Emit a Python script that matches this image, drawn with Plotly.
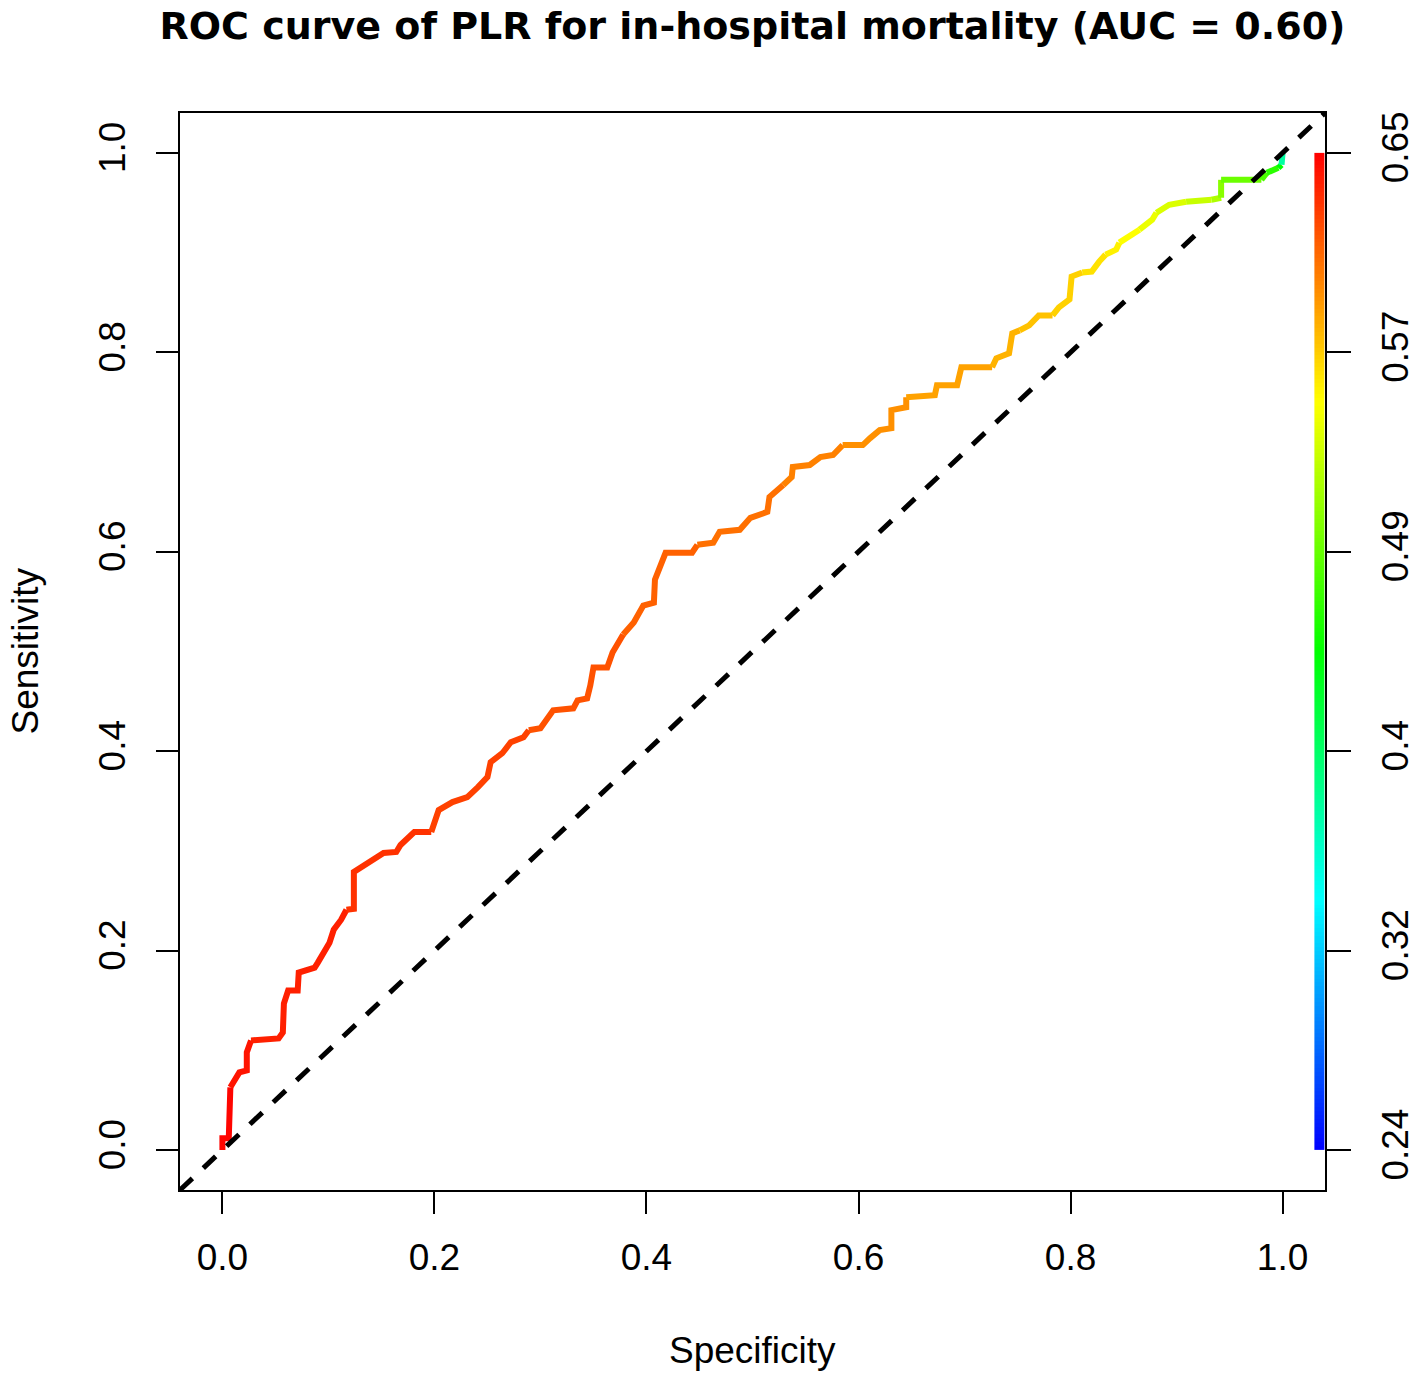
import colorsys
import numpy as np
import plotly.graph_objects as go

# ROC curve vertices (x = 1 - specificity axis as drawn, y = sensitivity)
spec = [0.000, 0.000, 0.006, 0.0075, 0.011, 0.016, 0.023, 0.023, 0.027, 0.053,
        0.057, 0.058, 0.062, 0.071, 0.072, 0.087, 0.090, 0.095, 0.101, 0.105,
        0.112, 0.117, 0.124, 0.124, 0.134, 0.143, 0.152, 0.164, 0.168, 0.181,
        0.197, 0.204, 0.217, 0.231, 0.241, 0.250, 0.253, 0.264, 0.272, 0.284,
        0.289, 0.300, 0.312, 0.331, 0.335, 0.344, 0.347, 0.350, 0.363, 0.368,
        0.378, 0.388, 0.397, 0.407, 0.408, 0.413, 0.418, 0.443, 0.448, 0.463,
        0.469, 0.488, 0.498, 0.514, 0.516, 0.529, 0.537, 0.538, 0.554, 0.564,
        0.576, 0.585, 0.604, 0.611, 0.620, 0.631, 0.631, 0.645, 0.645, 0.672,
        0.674, 0.693, 0.697, 0.726, 0.730, 0.742, 0.745, 0.752, 0.761, 0.770,
        0.783, 0.789, 0.799, 0.801, 0.811, 0.820, 0.827, 0.833, 0.843, 0.846,
        0.857, 0.865, 0.877, 0.881, 0.893, 0.909, 0.933, 0.942, 0.942, 0.980,
        0.985, 0.996, 0.999, 1.000]
sens = [0.000, 0.012, 0.012, 0.063, 0.070, 0.078, 0.080, 0.098, 0.110, 0.112,
        0.118, 0.147, 0.160, 0.160, 0.178, 0.183, 0.188, 0.196, 0.208, 0.221,
        0.231, 0.241, 0.242, 0.279, 0.286, 0.291, 0.298, 0.299, 0.306, 0.319,
        0.319, 0.341, 0.349, 0.354, 0.364, 0.374, 0.389, 0.398, 0.409, 0.414,
        0.421, 0.423, 0.441, 0.443, 0.451, 0.453, 0.466, 0.484, 0.484, 0.499,
        0.517, 0.529, 0.546, 0.549, 0.572, 0.585, 0.599, 0.599, 0.607, 0.609,
        0.620, 0.622, 0.634, 0.640, 0.655, 0.667, 0.675, 0.685, 0.687, 0.695,
        0.697, 0.707, 0.707, 0.714, 0.722, 0.724, 0.742, 0.745, 0.755, 0.757,
        0.767, 0.767, 0.785, 0.785, 0.794, 0.799, 0.819, 0.822, 0.827, 0.837,
        0.837, 0.845, 0.853, 0.876, 0.880, 0.881, 0.891, 0.898, 0.903, 0.910,
        0.918, 0.923, 0.933, 0.940, 0.948, 0.951, 0.953, 0.955, 0.973, 0.973,
        0.980, 0.985, 0.988, 1.000]
# cutoff (PLR probability) at each vertex, estimated from the curve colour
cutoff = [0.648, 0.646, 0.644, 0.642, 0.641, 0.640, 0.639, 0.638, 0.637, 0.636,
          0.636, 0.635, 0.635, 0.634, 0.634, 0.633, 0.633, 0.632, 0.632, 0.631,
          0.631, 0.630, 0.630, 0.629, 0.628, 0.628, 0.627, 0.626, 0.626, 0.625,
          0.624, 0.623, 0.623, 0.622, 0.621, 0.620, 0.619, 0.619, 0.618, 0.618,
          0.617, 0.616, 0.616, 0.615, 0.615, 0.614, 0.613, 0.613, 0.612, 0.612,
          0.611, 0.610, 0.610, 0.609, 0.608, 0.608, 0.607, 0.606, 0.605, 0.604,
          0.603, 0.602, 0.601, 0.600, 0.599, 0.598, 0.597, 0.596, 0.595, 0.594,
          0.593, 0.592, 0.591, 0.591, 0.590, 0.589, 0.588, 0.586, 0.585, 0.584,
          0.582, 0.581, 0.580, 0.578, 0.577, 0.576, 0.574, 0.572, 0.570, 0.568,
          0.566, 0.564, 0.562, 0.561, 0.559, 0.557, 0.555, 0.553, 0.550, 0.547,
          0.544, 0.540, 0.537, 0.533, 0.529, 0.525, 0.515, 0.500, 0.488, 0.475,
          0.462, 0.445, 0.380, 0.290]

cut_min, cut_max = 0.24, 0.65
bar_tickvals = [0.24, 0.322, 0.404, 0.486, 0.568, 0.65]
bar_ticktext = ['0.24', '0.32', '0.4', '0.49', '0.57', '0.65']
axis_ticks = [0.0, 0.2, 0.4, 0.6, 0.8, 1.0]

FONT = "Liberation Sans, Arial, sans-serif"

# the page body adds an 8px offset, so the figure is 16px smaller
W, H = 1410, 1369


def rainbow(c):
    # rev(rainbow(256, start=0, end=4/6)) like ROCR colorize
    f = (cut_max - c) / (cut_max - cut_min)
    f = min(max(f, 0), 1)
    r, g, b = colorsys.hsv_to_rgb(f * 4 / 6, 1, 1)
    return 'rgb(%d,%d,%d)' % (round(r * 255), round(g * 255), round(b * 255))


def bin_of(c):
    return int(min(max((cut_max - c) / (cut_max - cut_min), 0), 0.9999) * 64)


fig = go.Figure()

# group consecutive segments of the same colour bin into one polyline
start = 0
n = len(spec)
while start < n - 1:
    b = bin_of(cutoff[start])
    end = start + 1
    while end < n - 1 and bin_of(cutoff[end]) == b:
        end += 1
    fig.add_trace(go.Scatter(
        x=spec[start:end + 1], y=sens[start:end + 1], mode='lines',
        line=dict(color=rainbow(cutoff[start]), width=6),
        hoverinfo='skip', showlegend=False))
    start = end

# colour bar along the right edge, on its own cutoff axis
edges = np.linspace(cut_min, cut_max, 257)
mids = (edges[:-1] + edges[1:]) / 2
scale = [[i / 20, rainbow(cut_min + (cut_max - cut_min) * i / 20)] for i in range(21)]
fig.add_trace(go.Heatmap(
    x=[1.030, 1.0395], y=edges, z=[[m] for m in mids],
    zmin=cut_min, zmax=cut_max, colorscale=scale, showscale=False,
    hoverinfo='skip', yaxis='y2'))

# chance diagonal
fig.add_shape(type='line', xref='x domain', yref='y domain', x0=0, y0=0, x1=1, y1=1,
              line=dict(color='black', width=5, dash='17px,15px'))

pad = 0.04
span = cut_max - cut_min
fig.update_layout(
    width=W, height=H,
    margin=dict(l=172, r=93, t=105, b=187, autoexpand=False),
    paper_bgcolor='white', plot_bgcolor='white',
    font=dict(family=FONT, size=37, color='black'),
    showlegend=False,
    title=dict(text='<b>ROC curve of PLR for in-hospital mortality (AUC = 0.60)</b>',
               x=0.5, xref='paper', xanchor='center',
               y=1 - 18 / H, yref='container', yanchor='middle',
               font=dict(family="DejaVu Sans, sans-serif", size=38, color='black')),
    xaxis=dict(range=[-pad, 1 + pad], tickvals=axis_ticks, tickformat='.1f',
               showgrid=False, zeroline=False, showline=True, mirror=True,
               linecolor='black', linewidth=2, ticks='outside', ticklen=22,
               tickwidth=2, tickcolor='black', ticklabelstandoff=12, automargin=False),
    yaxis=dict(range=[-pad, 1 + pad], tickvals=axis_ticks, tickformat='.1f',
               tickangle=-90, showgrid=False, zeroline=False, showline=True,
               mirror=True, linecolor='black', linewidth=2, ticks='outside',
               ticklen=22, tickwidth=2, tickcolor='black', ticklabelstandoff=16,
               automargin=False),
    yaxis2=dict(overlaying='y', side='right',
                range=[cut_min - pad * span, cut_max + pad * span],
                tickvals=bar_tickvals, ticktext=bar_ticktext, tickangle=-90,
                showgrid=False, zeroline=False, showline=False, ticks='outside',
                ticklen=25, tickwidth=2, tickcolor='black', ticklabelstandoff=13,
                automargin=False),
    annotations=[
        dict(text='Specificity', xref='paper', yref='paper', x=0.5,
             y=(1182 - 1342) / 1077, xanchor='center', yanchor='middle',
             showarrow=False, font=dict(family=FONT, size=37, color='black')),
        dict(text='Sensitivity', xref='paper', yref='paper', x=(17 - 172) / 1145,
             y=0.5, xanchor='center', yanchor='middle', textangle=-90,
             showarrow=False, font=dict(family=FONT, size=37, color='black')),
    ],
)

fig.write_html("out.html")
